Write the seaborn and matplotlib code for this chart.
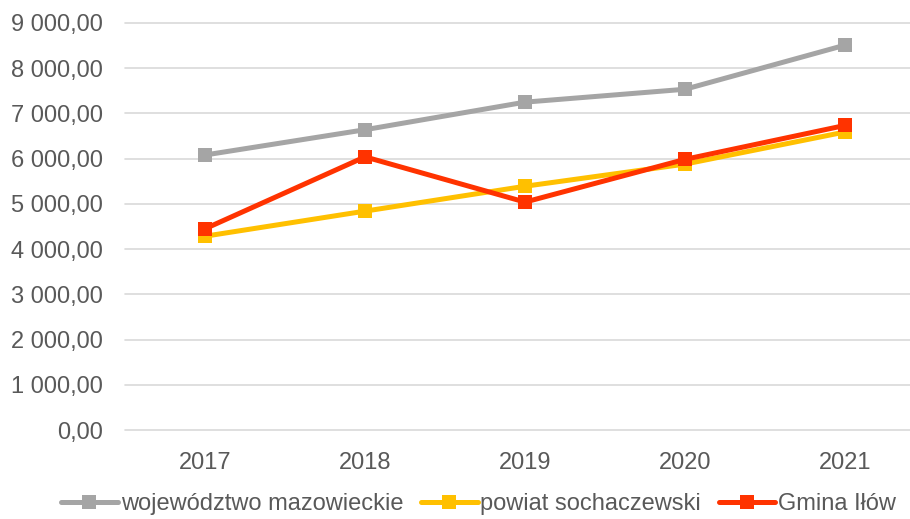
import matplotlib
matplotlib.use("Agg")
import matplotlib.pyplot as plt
import seaborn as sns
import pandas as pd
from matplotlib.ticker import FuncFormatter

years = ["2017", "2018", "2019", "2020", "2021"]
mazowieckie = [6081, 6640, 7250, 7535, 8510]
sochaczewski = [4285, 4840, 5390, 5880, 6590]
ilow = [4450, 6040, 5040, 5985, 6735]
series_names = ["województwo mazowieckie", "powiat sochaczewski", "Gmina Iłów"]
colors = ["#A5A5A5", "#FFC000", "#FF3300"]

sns.set_theme(style="white")
plt.rcParams['font.family'] = ['Liberation Sans', 'DejaVu Sans']

df = pd.DataFrame({
    "year": years * 3,
    "value": mazowieckie + sochaczewski + ilow,
    "series": [series_names[0]] * 5 + [series_names[1]] * 5 + [series_names[2]] * 5,
})

fig = plt.figure(figsize=(9.10, 5.19), dpi=100)
ax = fig.add_axes([125 / 910, 89 / 519, 785 / 910, 407 / 519])

sns.lineplot(data=df, x="year", y="value", hue="series", palette=colors,
             hue_order=series_names, marker="s", markersize=10.5, linewidth=3.6,
             markeredgewidth=0, sort=False, ax=ax, legend=True)

ax.set_xlim(-0.5, 4.406)
ax.set_ylim(0, 9000)
ax.set_yticks(range(0, 9001, 1000))
ax.yaxis.set_major_formatter(FuncFormatter(lambda v, p: f"{int(v):,}".replace(",", " ") + ",00"))
ax.grid(axis="y", color="#D9D9D9", linewidth=1.2)
ax.grid(axis="x", visible=False)
ax.set_axisbelow(True)
for s in ax.spines.values():
    s.set_visible(False)
for gl in ax.get_ygridlines():
    gl.set_clip_on(False)
ax.set_xlabel("")
ax.set_ylabel("")
ax.tick_params(axis="y", length=0, pad=16, labelsize=17, labelcolor="#595959")
ax.tick_params(axis="x", length=0, pad=16, labelsize=17, labelcolor="#595959")

handles, labels = ax.get_legend_handles_labels()
ax.legend_.remove()
leg = fig.legend(handles, labels, loc="center", bbox_to_anchor=(0.526, 0.029),
                 ncol=3, frameon=False, fontsize=17, handlelength=2.4,
                 handletextpad=0.12, columnspacing=0.75, borderaxespad=0)
for t in leg.get_texts():
    t.set_color("#595959")

fig.savefig("out.png", dpi=100)
